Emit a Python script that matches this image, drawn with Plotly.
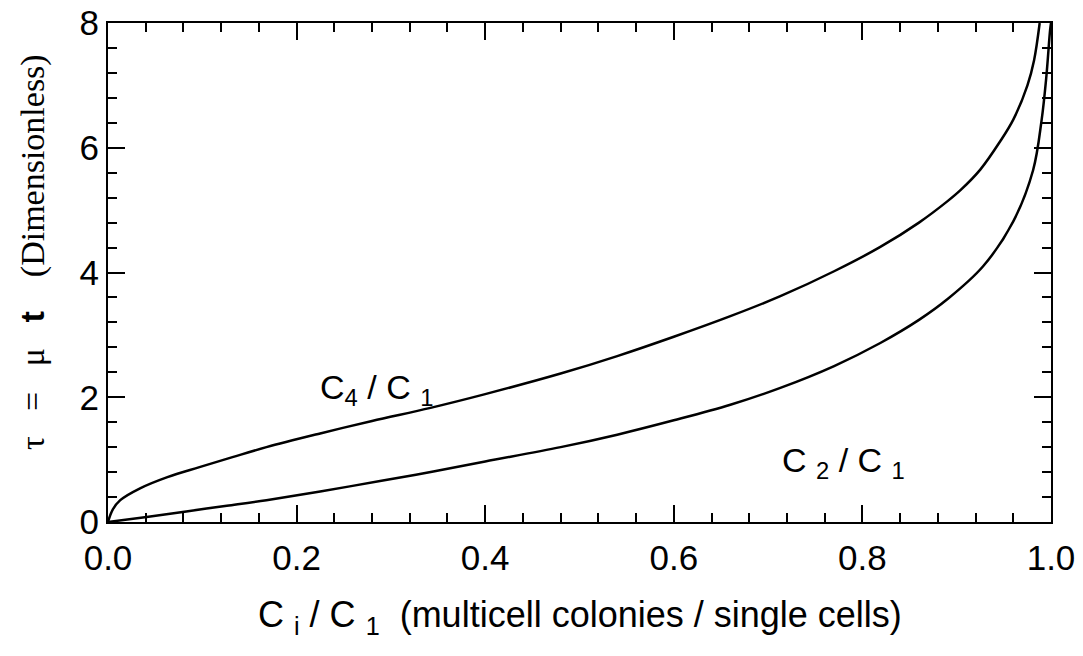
import plotly.graph_objects as go

# C4/C1 curve (upper)
x_c4 = [0, 0.005, 0.013, 0.034, 0.063, 0.097, 0.132, 0.168, 0.225, 0.28, 0.342, 0.40,
        0.48, 0.54, 0.60, 0.66, 0.713, 0.77, 0.819, 0.86, 0.89, 0.904, 0.925, 0.946,
        0.96, 0.975, 0.982, 0.988]
y_c4 = [0, 0.2, 0.35, 0.54, 0.72, 0.88, 1.04, 1.2, 1.42, 1.62, 1.83, 2.05,
        2.38, 2.66, 2.97, 3.30, 3.62, 4.02, 4.41, 4.80, 5.14, 5.32, 5.65, 6.1,
        6.45, 7.0, 7.4, 8.0]

# C2/C1 curve (lower)
x_c2 = [0, 0.041, 0.083, 0.126, 0.168, 0.225, 0.29, 0.345, 0.40, 0.48, 0.54, 0.60,
        0.66, 0.713, 0.77, 0.819, 0.86, 0.89, 0.928, 0.96, 0.981, 0.99, 0.995, 0.999, 1.0]
y_c2 = [0, 0.08, 0.17, 0.26, 0.35, 0.49, 0.66, 0.81, 0.97, 1.2, 1.4, 1.63,
        1.88, 2.15, 2.5, 2.87, 3.24, 3.57, 4.1, 4.82, 5.64, 6.44, 7.13, 7.88, 8.0]

x_ticks = [0.0, 0.2, 0.4, 0.6, 0.8, 1.0]
x_ticklabels = ["0.0", "0.2", "0.4", "0.6", "0.8", "1.0"]
y_ticks = [0, 2, 4, 6, 8]
y_ticklabels = ["0", "2", "4", "6", "8"]

fig = go.Figure()
fig.add_trace(go.Scatter(x=x_c4, y=y_c4, mode="lines", line=dict(color="black", width=2.5, shape="spline", smoothing=1.0), showlegend=False))
fig.add_trace(go.Scatter(x=x_c2, y=y_c2, mode="lines", line=dict(color="black", width=2.5, shape="spline", smoothing=1.0), showlegend=False))

axis_common = dict(
    showgrid=False, zeroline=False, showline=True, linecolor="black", linewidth=2,
    mirror="ticks", ticks="inside", ticklen=17, tickwidth=2, tickcolor="black",
    automargin=False,
    tickfont=dict(family="Liberation Sans, Arial", size=35, color="black"),
)

fig.update_xaxes(range=[0, 1], tickvals=x_ticks, ticktext=x_ticklabels, ticklabelstandoff=4,
                 minor=dict(dtick=0.04, ticks="inside", ticklen=9, tickwidth=2, tickcolor="black", showgrid=False),
                 **axis_common)
fig.update_yaxes(range=[0, 8], tickvals=y_ticks, ticktext=y_ticklabels,
                 minor=dict(dtick=0.4, ticks="inside", ticklen=9, tickwidth=2, tickcolor="black", showgrid=False),
                 **axis_common)

fig.add_annotation(x=0.285, y=2.12, xref="x", yref="y", showarrow=False,
                   text="C<sub>4</sub> / C <sub>1</sub>",
                   font=dict(family="Liberation Sans, Arial", size=34, color="black"))
fig.add_annotation(x=0.78, y=0.96, xref="x", yref="y", showarrow=False,
                   text="C <sub>2</sub> / C <sub>1</sub>",
                   font=dict(family="Liberation Sans, Arial", size=34, color="black"))

# x axis title
fig.add_annotation(x=0.5, y=-0.19, xref="paper", yref="paper", showarrow=False,
                   yanchor="middle",
                   text="C <sub>i</sub> / C <sub>1</sub>  (multicell colonies / single cells)",
                   font=dict(family="Liberation Sans Narrow, Liberation Sans, Arial", size=36, color="black"))
# y axis title
fig.add_annotation(x=-0.08, y=0.54, xref="paper", yref="paper", showarrow=False,
                   textangle=-90, xanchor="center", yanchor="middle",
                   text="τ&nbsp;&nbsp;&nbsp;=&nbsp;&nbsp;&nbsp;μ&nbsp;&nbsp;&nbsp;<b style='font-family:Liberation Sans'>t</b>&nbsp;&nbsp;&nbsp;&nbsp;(Dimensionless)",
                   font=dict(family="Liberation Serif, Times New Roman", size=34, color="black"))

fig.update_layout(
    width=1083, height=656,
    margin=dict(l=108, r=32, t=23, b=134, autoexpand=False),
    paper_bgcolor="white", plot_bgcolor="white",
)

fig.write_html("out.html")
